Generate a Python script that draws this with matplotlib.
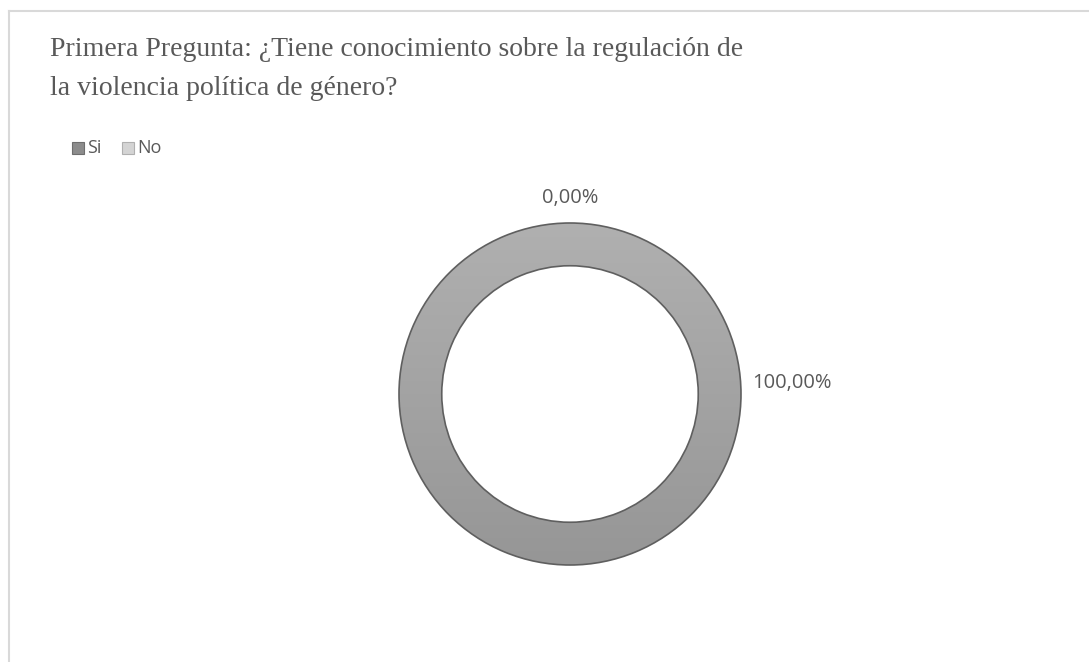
import numpy as np
import matplotlib
matplotlib.use("Agg")
import matplotlib.pyplot as plt
from matplotlib.patches import Rectangle

# data
categories = ["Si", "No"]
values = [100.0, 0.0]
labels = ["100,00%", "0,00%"]
legend_colors = ["#8c8c8c", "#d4d4d4"]
title_lines = ["Primera Pregunta: ¿Tiene conocimiento sobre la regulación de",
               "la violencia política de género?"]

W, H = 1089, 662
fig = plt.figure(figsize=(W / 100, H / 100), dpi=100)
fig.patch.set_facecolor("white")

# light chart-area frame (cut off at right and bottom)
fig.add_artist(plt.Line2D([9 / W, 1], [1 - 11 / H, 1 - 11 / H], color="#d9d9d9", lw=1.5))
fig.add_artist(plt.Line2D([9 / W, 9 / W], [0, 1 - 11 / H], color="#d9d9d9", lw=1.5))

# title, one baseline per line
for line, base in zip(title_lines, [56, 95]):
    fig.text(50 / W, 1 - base / H, line, family="Liberation Serif", fontsize=20,
             color="#595959", va="baseline", ha="left")

# legend
gray_txt = "#595959"
x0 = 72
for i, (cat, col) in enumerate(zip(categories, legend_colors)):
    fig.add_artist(Rectangle((x0 / W, 1 - 154 / H), 12 / W, 12 / H, transform=fig.transFigure,
                             facecolor=col, edgecolor="#6e6e6e" if i == 0 else "#b0b0b0", lw=0.8))
    fig.text((x0 + 15) / W, 1 - 148 / H, cat, family="Open Sans", fontsize=13,
             color=gray_txt, va="center", ha="left")
    x0 += 50

# donut: centre (570, 394), outer radius 171 px
R = 171
side = 3 * R
ax = fig.add_axes([(570 - side / 2) / W, (H - 394 - side / 2) / H, side / W, side / H])

wedges, _ = ax.pie(values, startangle=90, counterclock=False, radius=1.0,
                   wedgeprops=dict(width=0.25, edgecolor="#5f5f5f", linewidth=1.2),
                   colors=["#a3a3a3", "#d4d4d4"])

# vertical gradient fill, lighter on top
grad = np.linspace(0, 1, 256).reshape(-1, 1)
cmap = matplotlib.colors.LinearSegmentedColormap.from_list("g", ["#969696", "#b0b0b0"])
w = wedges[0]
im = ax.imshow(grad, extent=[-1, 1, -1, 1], origin="lower", cmap=cmap,
               aspect="auto", zorder=w.get_zorder() + 0.1)
im.set_clip_path(w)
w.set_facecolor("none")
w.set_zorder(w.get_zorder() + 0.2)

ax.set_xlim(-1.5, 1.5)
ax.set_ylim(-1.5, 1.5)
ax.set_aspect("equal")
ax.axis("off")

# data labels
ax.text(1.30, 0.064, labels[0], family="Open Sans", fontsize=14.5, color=gray_txt,
        ha="center", va="center")
ax.text(0.0, 1.146, labels[1], family="Open Sans", fontsize=14.5, color=gray_txt,
        ha="center", va="center")

fig.savefig("out.png", dpi=100, facecolor="white")
